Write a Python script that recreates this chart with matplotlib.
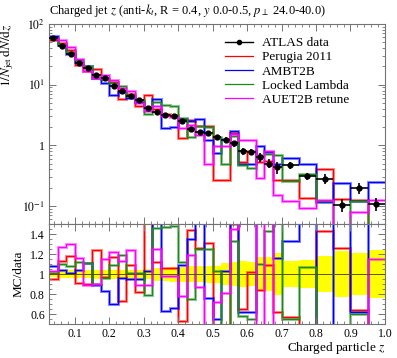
import numpy as np
import matplotlib
matplotlib.use("Agg")
import matplotlib.pyplot as plt
from matplotlib.ticker import MultipleLocator, FixedLocator, FixedFormatter, NullFormatter, LogLocator
from matplotlib.lines import Line2D

plt.rcParams['font.family'] = ['Liberation Serif', 'DejaVu Serif']
plt.rcParams['mathtext.fontset'] = 'stix'

# bin edges in z
edges = [0.025, 0.05, 0.075, 0.1, 0.125, 0.15, 0.175, 0.2, 0.225, 0.25, 0.275,
         0.3, 0.325, 0.35, 0.375, 0.4, 0.425, 0.45, 0.475, 0.5, 0.525, 0.55,
         0.575, 0.6, 0.625, 0.65, 0.675, 0.7, 0.75, 0.8, 0.85, 0.9, 0.95, 1.0]

# ATLAS data, 1/Njet dN/dz
data = [58, 43, 32, 23, 18.6, 14.4, 12.7, 9.6, 7.9, 6.4, 5.5, 4.1, 3.5, 3.1,
        3.0, 2.5, 1.83, 1.68, 1.61, 1.35, 1.22, 1.07, 0.80, 0.78, 0.63, 0.50,
        0.43, 0.47, 0.31, 0.28, 0.105, 0.198, 0.107]
# relative uncertainty of the data
rel_err = [0.033, 0.035, 0.04, 0.04, 0.04, 0.045, 0.045, 0.045, 0.045, 0.045,
           0.045, 0.05, 0.065, 0.065, 0.075, 0.075, 0.078, 0.078, 0.085, 0.085,
           0.11, 0.12, 0.13, 0.12, 0.17, 0.17, 0.21, 0.13, 0.14, 0.18, 0.23,
           0.21, 0.24]

# MC / data ratios
r_perugia = [0.95, 1.13, 1.18, 0.91, 0.90, 1.24, 0.97, 1.17, 0.73, 1.09, 0.82,
             1.62, 1.12, 1.06, 1.06, 0.53, 1.44, 1.26, 1.31, 0.20, 0.22, 1.50,
             0.65, 1.02, 0.84, 1.09, 0.62, 0.57, 0.43, 1.43, 1.26, 0.64, 0.45]
r_ambt2b = [1.08, 1.04, 1.01, 1.04, 1.11, 0.89, 0.83, 0.70, 0.96, 0.95, 0.95,
            1.03, 1.65, 0.63, 0.66, 1.09, 1.35, 1.60, 0.76, 0.55, 1.03, 1.60,
            0.62, 0.62, 1.55, 1.55, 1.16, 1.33, 1.60, 0.42, 2.30, 0.62, 2.30]
r_locked = [1.01, 1.10, 1.08, 1.12, 1.11, 0.90, 0.96, 1.09, 1.19, 1.01, 1.01,
            0.79, 1.46, 1.47, 1.48, 1.12, 0.75, 1.25, 1.25, 1.03, 0.40, 1.33,
            0.58, 0.55, 1.10, 1.43, 1.60, 0.55, 1.07, 0.43, 0.35, 0.60, 0.40]
r_auet2b = [1.03, 1.27, 1.30, 1.16, 0.89, 0.90, 1.15, 1.22, 1.13, 1.24, 0.89,
            0.89, 1.25, 0.98, 0.98, 0.78, 1.19, 0.87, 0.30, 0.72, 0.81, 1.45,
            1.55, 1.55, 0.45, 1.60, 0.35, 0.26, 0.30, 0.44, 0.40, 0.40, 1.15]

mc_names = ['Perugia 2011', 'AMBT2B', 'Locked Lambda', 'AUET2B retune']
mc_ratios = [r_perugia, r_ambt2b, r_locked, r_auet2b]
mc_colors = ['#ff0000', '#0000ff', '#1a8a1a', '#ff00ff']

edges = np.array(edges)
data = np.array(data)
rel_err = np.array(rel_err)
centers = 0.5 * (edges[:-1] + edges[1:])
halfw = 0.5 * np.diff(edges)

fig = plt.figure(figsize=(3.97, 3.58), dpi=100)
ax1 = fig.add_axes([0.1234, 0.374, 0.846, 0.559])
ax2 = fig.add_axes([0.1234, 0.095, 0.846, 0.279], sharex=ax1)

frame = '0.45'
for ax in (ax1, ax2):
    for s in ax.spines.values():
        s.set_color(frame)
        s.set_linewidth(0.8)
    ax.tick_params(which='both', direction='in', top=True, right=True,
                   color=frame, labelsize=8.5, pad=3)
    ax.tick_params(which='major', length=5, width=0.7)
    ax.tick_params(which='minor', length=2.5, width=0.6)

# main panel
for r, c in zip(mc_ratios, mc_colors):
    vals = np.array(r) * data
    ax1.stairs(vals, edges, baseline=None, color=c, lw=2.2, alpha=0.45)
    ax1.stairs(vals, edges, baseline=None, color=c, lw=0.8)
ax1.errorbar(centers, data, yerr=data * rel_err, xerr=halfw, fmt='o',
             color='k', ms=3.5, elinewidth=1.2, capsize=0, zorder=5)

ax1.set_yscale('log')
ax1.set_ylim(10 ** -1.3, 100)
ax1.set_xlim(0.025, 1.0)
ax1.yaxis.set_major_locator(FixedLocator([0.1, 1, 10, 100]))
ax1.yaxis.set_major_formatter(FixedFormatter(['$10^{-1}$', '1', '$10^{1}$', '$10^{2}$']))
ax1.yaxis.set_minor_locator(LogLocator(base=10, subs=np.arange(2, 10)))
ax1.yaxis.set_minor_formatter(NullFormatter())
ax1.xaxis.set_major_locator(MultipleLocator(0.1))
ax1.xaxis.set_minor_locator(MultipleLocator(0.02))
plt.setp(ax1.get_xticklabels(), visible=False)
ax1.set_ylabel(r'$1/N_{\mathrm{jet}}\,\mathrm{d}N/\mathrm{d}z$', loc='top', fontsize=9.5)

fig.text(0.1234, 0.972, r'Charged jet $z$ (anti-$k_t$, R = 0.4, $y$ 0.0-0.5, $p_\perp$ 24.0-40.0)',
         fontsize=9, ha='left', va='center')

handles = [Line2D([], [], color='k', marker='o', ms=3, lw=1)]
for n, c in zip(mc_names, mc_colors):
    handles.append(Line2D([], [], color=c, lw=0.9))
ax1.legend(handles, ['ATLAS data'] + mc_names, loc='upper left',
           bbox_to_anchor=(0.524, 0.935), frameon=False, fontsize=9.5,
           borderpad=0, borderaxespad=0,
           handlelength=2.1, labelspacing=0.15, handletextpad=0.7)

# ratio panel
band_lo = np.append(1 - rel_err, 1 - rel_err[-1])
band_hi = np.append(1 + rel_err, 1 + rel_err[-1])
ax2.fill_between(edges, band_lo, band_hi, step='post', color='#ffff00', lw=0)
ax2.axhline(1.0, color='#555500', lw=0.7, zorder=3)
for r, c in zip(mc_ratios, mc_colors):
    ax2.stairs(r, edges, baseline=None, color=c, lw=2.2, alpha=0.45)
    ax2.stairs(r, edges, baseline=None, color=c, lw=0.8)

ax2.set_ylim(0.5, 1.5)
ax2.yaxis.set_major_locator(FixedLocator([0.6, 0.8, 1.0, 1.2, 1.4]))
ax2.yaxis.set_major_formatter(FixedFormatter(['0.6', '0.8', '1', '1.2', '1.4']))
ax2.yaxis.set_minor_locator(MultipleLocator(0.05))
ax2.xaxis.set_major_locator(MultipleLocator(0.1))
ax2.xaxis.set_minor_locator(MultipleLocator(0.02))
ax2.set_ylabel('MC/data', fontsize=9.5)
ax2.set_xlabel(r'Charged particle $z$', fontsize=9.5, ha='right')
ax2.xaxis.set_label_coords(1.0, -0.165)

fig.savefig('out.png', dpi=100)
